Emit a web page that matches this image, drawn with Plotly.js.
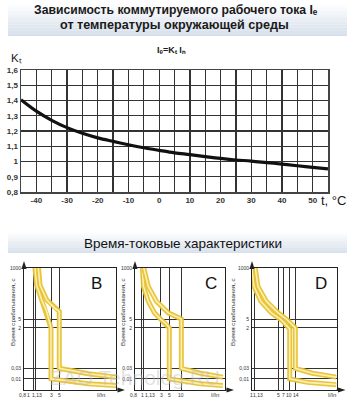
<!DOCTYPE html>
<html><head><meta charset="utf-8">
<script src="https://cdn.plot.ly/plotly-3.0.1.min.js"></script>
<style>html,body{margin:0;padding:0;background:#fff}#chart{width:357px;height:404px}</style>
</head><body><div id="chart"></div>
<script>
// ---------- top chart data ----------
const tempC = [-45,-40,-35,-30,-25,-20,-15,-10,-5,0,5,10,15,20,25,30,35,40,45,50,55];
const kt    = [1.405,1.33,1.27,1.222,1.185,1.155,1.132,1.11,1.09,1.073,1.057,1.045,1.032,1.02,1.01,1.003,0.993,0.983,0.972,0.962,0.952];
const tempTicks = [-40,-30,-20,-10,0,10,20,30,40,50];
const ktTicks = [0.8,0.9,1.0,1.1,1.2,1.3,1.4,1.5,1.6];
const ktTickText = ['0,8','0,9','1','1,1','1,2','1,3','1,4','1,5','1,6'];

// ---------- time-current characteristics ----------
const timeTicks = [0.01,0.03,2,5,1000];
const timeTickText = ['0,01','0,03','2','5','1000'];

const bCurrentTicks = [0.8,1,1.13,3,5];
const bCurrentText  = ['0,8','1','1,13','3','5'];
const cCurrentTicks = [0.8,1,1.13,3,5,10];
const cCurrentText  = ['0,8','1','1,13','3','5','10'];
const dCurrentTicks = [0.8,1,1.13,5,7,10,14];
const dCurrentText  = ['0,8','1','1,13','5','7','10','14'];

const bLowI  = [1.11,1.12,1.24,1.69,2.3,2.86,3.0,3.0,10,30,164];
const bLowT  = [2000,1000,171,37,11,2.9,2,0.01,0.008,0.006,0.005];
const bHighI = [1.35,1.37,1.52,2.3,3.84,5,5,10,30,164];
const bHighT = [2000,1000,171,37,14.9,11,0.03,0.024,0.017,0.012];

const cLowI  = [1.04,1.05,1.13,1.49,2.12,3,4.2,5,5,10,30,109];
const cLowT  = [2000,1000,148,32,9.5,5,3,2,0.01,0.008,0.006,0.005];
const cHighI = [1.14,1.15,1.49,2.37,4.7,7.7,10,10,30,109];
const cHighT = [2000,1000,148,32,9.5,6.1,5,0.03,0.018,0.012];

const dLowI  = [0.99,1.0,1.13,1.7,3.26,6.0,10,10,30,173];
const dLowT  = [2000,1000,148,32,9.5,4.6,1.8,0.01,0.007,0.0055];
const dHighI = [1.21,1.22,1.44,2.4,4.9,8.1,14.1,14.1,40,173];
const dHighT = [2000,1000,148,32,9.5,5,2,0.03,0.018,0.012];

// ---------- layout helpers (pixels -> paper) ----------
const W = 357, H = 404;
const px = v => v / W;
const py = v => 1 - v / H;
const FONT = 'Liberation Sans, Arial, sans-serif';
const GRID = '#333';

const traces = [];
traces.push({x: tempC, y: kt, type: 'scatter', mode: 'lines', xaxis: 'x', yaxis: 'y',
  line: {color: '#111', width: 3.2, shape: 'spline'}, hoverinfo: 'skip', showlegend: false});

function band(I, T, ax) {
  traces.push({x: I, y: T, type: 'scatter', mode: 'lines', xaxis: 'x' + ax, yaxis: 'y' + ax,
    line: {color: 'rgba(232,194,52,0.95)', width: 5}, hoverinfo: 'skip', showlegend: false});
  traces.push({x: I, y: T, type: 'scatter', mode: 'lines', xaxis: 'x' + ax, yaxis: 'y' + ax,
    line: {color: '#fbf0b4', width: 1.6}, hoverinfo: 'skip', showlegend: false});
}
band(bLowI, bLowT, 2); band(bHighI, bHighT, 2);
band(cLowI, cLowT, 3); band(cHighI, cHighT, 3);
band(dLowI, dLowT, 4); band(dHighI, dHighT, 4);

// panel geometry (pixels)
const panels = [
  {ax: 2, left: 24,  right: 116,   xr: [-0.245, 2.215], ticks: bCurrentTicks, text: bCurrentText, nudge: [-7.5,-4.2,2,0,0],        letter: 'B', lx: 97,  ytitle: 12,  inx: 101},
  {ax: 3, left: 135, right: 225,   xr: [-0.159, 2.091], ticks: cCurrentTicks, text: cCurrentText, nudge: [-3.5,1.6,6.8,0.6,0,0],  letter: 'C', lx: 211, ytitle: 122, inx: 215},
  {ax: 4, left: 252, right: 336.5, xr: [0, 2.24],       ticks: dCurrentTicks, text: dCurrentText, nudge: [-4.6,-1,4.2,0,0,-0.9,0.9], letter: 'D', lx: 321, ytitle: 232, inx: 332}
];
const pTop = 268, pBot = 390;

const layout = {
  width: W, height: H, margin: {l: 0, r: 0, t: 0, b: 0},
  paper_bgcolor: '#fff', plot_bgcolor: '#fff', showlegend: false,
  font: {family: FONT, color: '#222'},
  xaxis: {domain: [px(21), px(328)], range: [-45, 55], tickmode: 'array', tickvals: tempTicks,
    ticktext: tempTicks.map(String), tickfont: {size: 8, color: '#333', weight: 'bold'}, ticks: '',
    showgrid: true, gridcolor: GRID, gridwidth: 1.3, zeroline: false,
    minor: {tickmode: 'linear', tick0: -45, dtick: 5, showgrid: true, gridcolor: GRID, gridwidth: 1.3},
    showline: true, mirror: true, linecolor: '#444', linewidth: 1.5, fixedrange: true},
  yaxis: {domain: [py(192), py(70)], range: [0.8, 1.6], tickmode: 'array', tickvals: ktTicks,
    ticktext: ktTickText, tickfont: {size: 8, color: '#333', weight: 'bold'}, ticks: '',
    showgrid: true, gridcolor: GRID, gridwidth: 1.3, zeroline: false,
    showline: true, mirror: true, linecolor: '#444', linewidth: 1.5, fixedrange: true},
  shapes: [], annotations: []
};

const P = (x, y) => px(x).toFixed(5) + ',' + py(y).toFixed(5);

panels.forEach(p => {
  layout['xaxis' + p.ax] = {domain: [px(p.left), px(p.right)], type: 'log', range: p.xr,
    tickmode: 'array', tickvals: p.ticks.slice(1), showticklabels: false, ticks: '',
    showgrid: true, gridcolor: GRID, gridwidth: 1, zeroline: false,
    showline: true, mirror: true, linecolor: '#222', linewidth: 1, anchor: 'y' + p.ax, fixedrange: true};
  layout['yaxis' + p.ax] = {domain: [py(pBot), py(pTop)], type: 'log', range: [-2.5, 3],
    tickmode: 'array', tickvals: timeTicks, ticktext: timeTickText, ticks: '',
    tickfont: {size: 5, color: '#333'}, ticklabelstandoff: 1,
    showgrid: true, gridcolor: GRID, gridwidth: 1, zeroline: false,
    showline: true, mirror: true, linecolor: '#222', linewidth: 1, anchor: 'x' + p.ax, fixedrange: true};
  // x tick labels
  p.ticks.forEach((v, i) => {
    layout.annotations.push({xref: 'x' + p.ax, yref: 'paper', x: Math.log10(v), y: py(395),
      text: p.text[i], showarrow: false, xshift: p.nudge[i], font: {size: 5, color: '#333'},
      borderpad: 0, borderwidth: 0, xanchor: 'center', yanchor: 'middle'});
  });
  layout.annotations.push({xref: 'paper', yref: 'paper', x: px(p.inx), y: py(395), text: 'I/In',
    showarrow: false, font: {size: 6, color: '#333'}, borderpad: 0, xanchor: 'center', yanchor: 'middle'});
  // letter
  layout.annotations.push({xref: 'paper', yref: 'paper', x: px(p.lx), y: py(283), text: p.letter,
    showarrow: false, font: {size: 17, color: '#111'}, xanchor: 'center', yanchor: 'middle'});
  // y title
  layout.annotations.push({xref: 'paper', yref: 'paper', x: px(p.ytitle), y: py(312),
    text: 'Время срабатывания, с', textangle: -90, showarrow: false, borderpad: 0,
    font: {size: 6.2, color: '#333'}, xanchor: 'center', yanchor: 'middle'});
  // axis arrows (decorative shapes)
  layout.shapes.push({type: 'path', xref: 'paper', yref: 'paper', layer: 'above',
    path: 'M' + P(p.left, 261) + 'L' + P(p.left - 2.6, 269) + 'L' + P(p.left + 2.6, 269) + 'Z',
    fillcolor: '#222', line: {width: 0}});
  layout.shapes.push({type: 'line', xref: 'paper', yref: 'paper', layer: 'above',
    x0: px(p.right), x1: px(p.right + 2), y0: py(pBot), y1: py(pBot), line: {color: '#222', width: 1}});
  layout.shapes.push({type: 'path', xref: 'paper', yref: 'paper', layer: 'above',
    path: 'M' + P(p.right + 9, pBot) + 'L' + P(p.right + 1.5, pBot - 2.6) + 'L' + P(p.right + 1.5, pBot + 2.6) + 'Z',
    fillcolor: '#222', line: {width: 0}});
});

// gradient title boxes
function gradBox(y0, y1, x0, x1) {
  const n = 12;
  for (let i = 0; i < n; i++) {
    const f = i / (n - 1);
    const r = Math.round(255 - f * (255 - 214)), g = Math.round(255 - f * (255 - 223)), b = Math.round(255 - f * (255 - 235));
    layout.shapes.push({type: 'rect', xref: 'paper', yref: 'paper', layer: 'below',
      x0: px(x0), x1: px(x1), y0: py(y0 + (y1 - y0) * i / n), y1: py(y0 + (y1 - y0) * (i + 1) / n),
      fillcolor: `rgb(${r},${g},${b})`, line: {width: 0}});
  }
}
gradBox(2, 36, 8, 347);
gradBox(231, 253, 8, 347);

const ann = (x, y, text, font, opts = {}) => layout.annotations.push(Object.assign({
  xref: 'paper', yref: 'paper', x: px(x), y: py(y), text, showarrow: false, borderpad: 0,
  font: Object.assign({color: '#1a1a1a', family: FONT}, font), xanchor: 'center', yanchor: 'middle'}, opts));

ann(176, 10, 'Зависимость коммутируемого рабочего тока Iₑ', {size: 12.2, weight: 'bold'});
ann(174, 25.5, 'от температуры окружающей среды', {size: 12.6, weight: 'bold'});
ann(171, 50, 'Iₑ=Kₜ Iₙ', {size: 9, weight: 'bold'});
ann(16, 58, 'Kₜ', {size: 11.5});
ann(333, 200, 't, °C', {size: 13});
ann(183, 243, 'Время-токовые характеристики', {size: 13.5, color: '#111'});
ann(135, 377, 'ZAO Tehnolog.RU', {size: 21, color: 'rgba(190,190,190,0.45)'});

Plotly.newPlot('chart', traces, layout, {staticPlot: true, displayModeBar: false});
</script></body></html>
